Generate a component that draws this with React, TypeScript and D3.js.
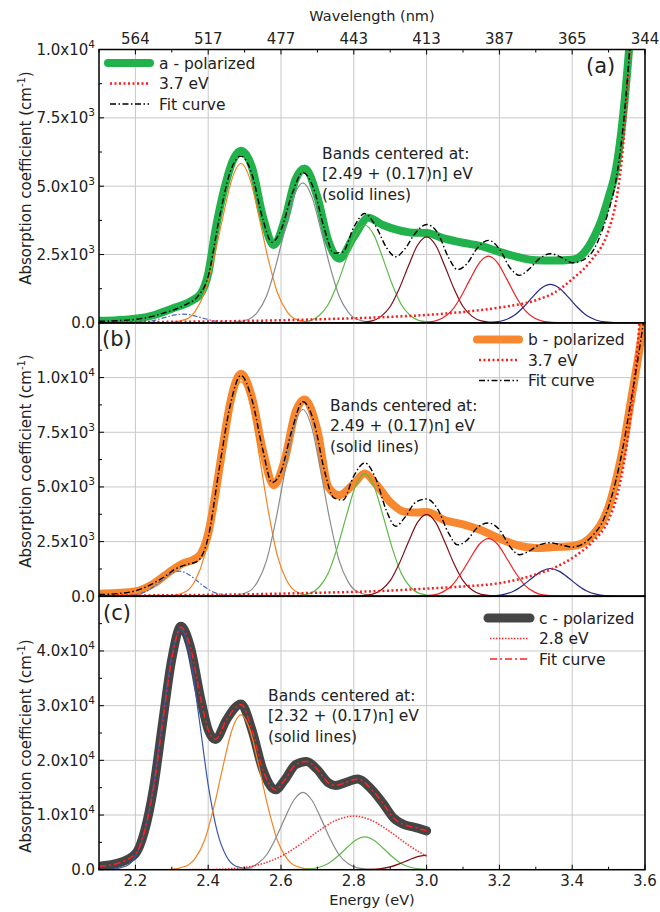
import React from "react";
import * as d3 from "d3";

// ---------------- shared axis data ----------------
const energyTicks = [2.2, 2.4, 2.6, 2.8, 3.0, 3.2, 3.4, 3.6];
const energyTickLabels = ["2.2", "2.4", "2.6", "2.8", "3.0", "3.2", "3.4", "3.6"];
const energyMinorTicks = [2.1, 2.3, 2.5, 2.7, 2.9, 3.1, 3.3, 3.5];
const wavelengthLabels = ["564", "517", "477", "443", "413", "387", "365", "344"];

// offsets (eV) around each band centre at which band heights were read
const bandOffsets = [-0.25, -0.2, -0.15, -0.125, -0.1, -0.075, -0.05, -0.025, 0, 0.025, 0.05, 0.075, 0.1, 0.125, 0.15, 0.2, 0.25];

// ---------------- panel (a) ----------------
const aTickValues = [0, 2500, 5000, 7500, 10000];
const aTickMantissa = ["0.0", "2.5x10", "5.0x10", "7.5x10", "1.0x10"];
const aTickExp = ["", "3", "3", "3", "4"];
const aMinorTicks = [1250, 3750, 6250, 8750];
const aBandCenters = [2.33, 2.49, 2.66, 2.83, 3.0, 3.17, 3.34];
const aBand233 = [0, 0, 4, 14, 43, 104, 194, 282, 320, 282, 194, 104, 43, 14, 4, 0, 0];
const aBand249 = [0, 8, 140, 443, 1110, 2330, 3850, 5250, 5830, 5250, 3850, 2330, 1110, 443, 140, 8, 0];
const aBand266 = [0, 7, 123, 389, 973, 2050, 3380, 4610, 5120, 4610, 3380, 2050, 973, 389, 123, 7, 0];
const aBand283 = [0, 5, 86, 272, 680, 1430, 2360, 3220, 3580, 3220, 2360, 1430, 680, 272, 86, 5, 0];
const aBand300 = [0, 4, 76, 239, 600, 1260, 2080, 2840, 3150, 2840, 2080, 1260, 600, 239, 76, 4, 0];
const aBand317 = [0, 3, 59, 185, 464, 976, 1610, 2200, 2440, 2200, 1610, 976, 464, 185, 59, 3, 0];
const aBand334 = [0, 2, 34, 107, 268, 564, 931, 1270, 1410, 1270, 931, 564, 268, 107, 34, 2, 0];
const aBgEnergy = [2.1, 2.3, 2.5, 2.7, 2.9, 3.0, 3.1, 3.2, 3.3, 3.35, 3.4, 3.45, 3.5, 3.52, 3.54, 3.56, 3.58, 3.6];
const aBgValue = [20, 40, 70, 130, 220, 290, 400, 560, 830, 1100, 1600, 2250, 3400, 4400, 6500, 10500, 16000, 24000];
const aMeasEnergy = [2.1, 2.15, 2.2, 2.25, 2.3, 2.35, 2.38, 2.4, 2.42, 2.45, 2.47, 2.49, 2.52, 2.55, 2.58, 2.61, 2.64, 2.665, 2.7, 2.73, 2.76, 2.8, 2.84, 2.88, 2.92, 2.96, 3.0, 3.05, 3.1, 3.15, 3.2, 3.25, 3.3, 3.35, 3.4, 3.43, 3.46, 3.48, 3.5, 3.52, 3.54, 3.555, 3.57];
const aMeasValue = [80, 100, 150, 280, 520, 780, 1080, 1800, 3400, 5200, 6000, 6300, 5700, 3900, 2850, 3750, 5250, 5650, 4600, 3000, 2350, 3150, 3850, 3580, 3400, 3300, 3290, 3080, 2930, 2810, 2600, 2410, 2290, 2280, 2310, 2530, 3140, 3750, 4600, 5600, 7600, 9800, 12500];
const aFitEnergy = [2.1, 2.15, 2.2, 2.25, 2.28, 2.31, 2.34, 2.37, 2.4, 2.43, 2.46, 2.49, 2.52, 2.55, 2.575, 2.6, 2.63, 2.66, 2.69, 2.72, 2.745, 2.77, 2.8, 2.83, 2.86, 2.89, 2.915, 2.94, 2.97, 3.0, 3.03, 3.06, 3.085, 3.11, 3.14, 3.17, 3.2, 3.23, 3.255, 3.28, 3.31, 3.34, 3.37, 3.4, 3.43, 3.46, 3.48, 3.5, 3.52, 3.54, 3.555, 3.57];
const aFitValue = [60, 80, 130, 250, 370, 500, 680, 950, 1700, 3800, 5500, 6100, 5450, 3800, 2950, 3400, 4700, 5500, 4900, 3400, 2550, 2600, 3500, 4000, 3550, 2750, 2420, 2700, 3300, 3600, 3300, 2400, 1950, 2150, 2750, 3020, 2700, 2000, 1740, 1950, 2350, 2530, 2400, 2200, 2300, 2700, 3300, 4100, 5200, 7200, 9500, 12500];

// ---------------- panel (b) ----------------
const bTickValues = [0, 2500, 5000, 7500, 10000];
const bTickMantissa = ["0.0", "2.5x10", "5.0x10", "7.5x10", "1.0x10"];
const bTickExp = ["", "3", "3", "3", "4"];
const bMinorTicks = [1250, 3750, 6250, 8750, 11250];
const bBandCenters = [2.32, 2.49, 2.66, 2.83, 3.0, 3.17, 3.34];
const bBand232 = [0, 0, 13, 51, 155, 374, 698, 1010, 1150, 1010, 698, 374, 155, 51, 13, 0, 0];
const bBand249 = [0, 13, 235, 745, 1860, 3920, 6470, 8820, 9800, 8820, 6470, 3920, 1860, 745, 235, 13, 0];
const bBand266 = [0, 11, 205, 649, 1620, 3420, 5640, 7690, 8540, 7690, 5640, 3420, 1620, 649, 205, 11, 0];
const bBand283 = [0, 7, 135, 426, 1070, 2240, 3700, 5050, 5610, 5050, 3700, 2240, 1070, 426, 135, 7, 0];
const bBand300 = [0, 5, 90, 285, 713, 1500, 2480, 3380, 3750, 3380, 2480, 1500, 713, 285, 90, 5, 0];
const bBand317 = [0, 3, 63, 201, 502, 1060, 1740, 2380, 2640, 2380, 1740, 1060, 502, 201, 63, 3, 0];
const bBand334 = [0, 2, 30, 97, 241, 508, 838, 1140, 1270, 1140, 838, 508, 241, 97, 30, 2, 0];
const bBgEnergy = [2.1, 2.3, 2.5, 2.7, 2.9, 3.0, 3.1, 3.2, 3.3, 3.35, 3.4, 3.45, 3.5, 3.52, 3.54, 3.56, 3.58, 3.6];
const bBgValue = [30, 50, 90, 160, 260, 350, 450, 600, 1000, 1300, 1750, 2400, 3500, 4400, 5900, 8200, 11500, 16000];
const bMeasEnergy = [2.1, 2.15, 2.2, 2.25, 2.3, 2.33, 2.36, 2.38, 2.4, 2.42, 2.44, 2.46, 2.49, 2.52, 2.55, 2.58, 2.61, 2.64, 2.665, 2.7, 2.73, 2.76, 2.8, 2.83, 2.86, 2.9, 2.94, 2.97, 3.0, 3.05, 3.1, 3.15, 3.2, 3.25, 3.3, 3.35, 3.4, 3.43, 3.46, 3.48, 3.5, 3.52, 3.54, 3.56, 3.58, 3.6];
const bMeasValue = [120, 150, 220, 580, 1190, 1500, 1680, 1950, 2870, 4700, 6830, 8810, 10180, 9110, 6680, 5080, 6220, 8430, 9000, 7590, 5000, 4620, 5150, 5610, 5150, 4310, 3860, 3830, 3850, 3480, 3290, 3020, 2640, 2330, 2210, 2250, 2300, 2440, 2870, 3330, 4090, 5300, 6830, 8810, 10790, 12900];
const bFitEnergy = [2.1, 2.15, 2.2, 2.25, 2.28, 2.31, 2.34, 2.37, 2.4, 2.43, 2.46, 2.49, 2.52, 2.55, 2.575, 2.6, 2.63, 2.66, 2.69, 2.72, 2.745, 2.77, 2.8, 2.83, 2.86, 2.89, 2.915, 2.94, 2.97, 3.0, 3.03, 3.06, 3.085, 3.11, 3.14, 3.17, 3.2, 3.23, 3.255, 3.28, 3.31, 3.34, 3.37, 3.4, 3.43, 3.46, 3.48, 3.5, 3.52, 3.54, 3.56, 3.58, 3.6];
const bFitValue = [80, 120, 250, 600, 900, 1250, 1450, 1600, 2700, 5800, 8700, 10100, 9000, 6700, 5200, 5700, 7600, 8900, 8000, 5700, 4500, 4400, 5500, 6100, 5400, 3900, 3200, 3600, 4300, 4450, 4000, 2900, 2350, 2550, 3150, 3350, 3050, 2250, 1900, 2050, 2350, 2450, 2350, 2250, 2400, 2850, 3300, 4100, 5300, 6850, 8800, 10800, 13000];

// ---------------- panel (c) ----------------
const cTickValues = [0, 10000, 20000, 30000, 40000];
const cTickMantissa = ["0.0", "1.0x10", "2.0x10", "3.0x10", "4.0x10"];
const cTickExp = ["", "4", "4", "4", "4"];
const cMinorTicks = [5000, 15000, 25000, 35000, 45000];
const cBandCenters = [2.325, 2.49, 2.66, 2.83, 3.0];
const cBand232 = [0, 26, 686, 2450, 6910, 15500, 27700, 39200, 44000, 39200, 27700, 15500, 6910, 2450, 686, 26, 0];
const cBand249 = [0, 37, 680, 2150, 5380, 11300, 18700, 25500, 28300, 25500, 18700, 11300, 5380, 2150, 680, 37, 0];
const cBand266 = [0, 18, 340, 1080, 2690, 5660, 9340, 12700, 14150, 12700, 9340, 5660, 2690, 1080, 340, 18, 0];
const cBand283 = [0, 8, 144, 456, 1140, 2400, 3960, 5400, 6000, 5400, 3960, 2400, 1140, 456, 144, 8, 0];
const cBand300 = [0, 3, 64, 201, 504, 1060, 1750, 2390, 2650, 2390, 1750, 1060, 504, 201, 64, 3, 0];
const cBgEnergy = [2.1, 2.3, 2.4, 2.5, 2.55, 2.6, 2.65, 2.7, 2.75, 2.8, 2.85, 2.9, 2.95, 3.0];
const cBgValue = [0, 5, 38, 431, 1120, 2440, 4490, 6930, 8990, 9800, 8990, 6930, 4490, 2440];
const cMeasEnergy = [2.1, 2.15, 2.2, 2.225, 2.25, 2.275, 2.3, 2.325, 2.35, 2.38, 2.4, 2.42, 2.45, 2.49, 2.52, 2.55, 2.585, 2.61, 2.64, 2.67, 2.7, 2.73, 2.75, 2.78, 2.81, 2.85, 2.88, 2.91, 2.94, 2.97, 3.0];
const cMeasValue = [640, 1150, 2900, 7000, 15000, 27000, 38500, 44500, 41000, 31100, 25600, 23800, 27400, 30300, 25600, 18300, 14600, 16400, 19200, 19800, 18300, 15900, 15400, 16000, 16600, 14600, 12150, 9400, 8200, 7700, 7100];
const cFitEnergy = [2.1, 2.15, 2.2, 2.225, 2.25, 2.275, 2.3, 2.325, 2.35, 2.38, 2.4, 2.42, 2.45, 2.49, 2.52, 2.55, 2.585, 2.61, 2.64, 2.67, 2.7, 2.73, 2.75, 2.78, 2.81, 2.85, 2.88, 2.91, 2.94, 2.97, 3.0];
const cFitValue = [620, 1150, 2900, 7000, 15000, 27000, 38500, 44400, 41000, 31100, 25600, 23800, 27400, 30200, 25600, 18300, 14600, 16400, 19200, 19800, 18300, 15900, 15400, 16000, 16600, 14600, 12150, 9400, 8200, 7700, 7100];

// ---------------- layout / style ----------------
const W = 660;
const H = 912;
const LEFT = 99;
const RIGHT = 645;
const PANEL_H = 273.4;
const TOP0 = 49.5;
const FONT = "'DejaVu Sans', Verdana, sans-serif";

const FIT_DASH = "6 2.5 1.5 2.5";

type Band = { center: number; values: number[]; color: string; dash?: string };
type Panel = {
  key: string;
  label: string;
  labelX: number;
  labelY: number;
  yMax: number;
  dataMax: number;
  ticks: number[];
  mant: string[];
  exp: string[];
  minor: number[];
  bands: Band[];
  bg: { e: number[]; v: number[]; color: string; width: number; dash: string };
  meas: { e: number[]; v: number[]; color: string; width: number };
  fit: { e: number[]; v: number[]; color: string; width: number; dash: string };
  legend: { x: number; y: number; labels: string[] };
  note: { x: number; y: number; lines: string[] };
  titleY: number;
};

const panels: Panel[] = [
  {
    key: "a",
    label: "(a)",
    labelX: 586,
    labelY: 73,
    yMax: 10000,
    dataMax: 3.6,
    ticks: aTickValues,
    mant: aTickMantissa,
    exp: aTickExp,
    minor: aMinorTicks,
    bands: [
      { center: aBandCenters[0], values: aBand233, color: "#4568c2", dash: "5 2 1.5 2" },
      { center: aBandCenters[1], values: aBand249, color: "#f58220" },
      { center: aBandCenters[2], values: aBand266, color: "#8a8a8a" },
      { center: aBandCenters[3], values: aBand283, color: "#5cb946" },
      { center: aBandCenters[4], values: aBand300, color: "#7f0f17" },
      { center: aBandCenters[5], values: aBand317, color: "#ee2124" },
      { center: aBandCenters[6], values: aBand334, color: "#232b82" },
    ],
    bg: { e: aBgEnergy, v: aBgValue, color: "#ff1a1a", width: 2.5, dash: "2 2.5" },
    meas: { e: aMeasEnergy, v: aMeasValue, color: "#22b24c", width: 8 },
    fit: { e: aFitEnergy, v: aFitValue, color: "#000000", width: 1.4, dash: FIT_DASH },
    legend: { x: 108, y: 63, labels: ["a - polarized", "3.7 eV", "Fit curve"] },
    note: { x: 322, y: 153, lines: ["Bands centered at:", "[2.49 + (0.17)n] eV", "(solid lines)"] },
    titleY: 178,
  },
  {
    key: "b",
    label: "(b)",
    labelX: 102,
    labelY: 346,
    yMax: 12500,
    dataMax: 3.6,
    ticks: bTickValues,
    mant: bTickMantissa,
    exp: bTickExp,
    minor: bMinorTicks,
    bands: [
      { center: bBandCenters[0], values: bBand232, color: "#4568c2", dash: "5 2 1.5 2" },
      { center: bBandCenters[1], values: bBand249, color: "#f58220" },
      { center: bBandCenters[2], values: bBand266, color: "#8a8a8a" },
      { center: bBandCenters[3], values: bBand283, color: "#5cb946" },
      { center: bBandCenters[4], values: bBand300, color: "#7f0f17" },
      { center: bBandCenters[5], values: bBand317, color: "#ee2124" },
      { center: bBandCenters[6], values: bBand334, color: "#232b82" },
    ],
    bg: { e: bBgEnergy, v: bBgValue, color: "#ff1a1a", width: 2.5, dash: "2 2.5" },
    meas: { e: bMeasEnergy, v: bMeasValue, color: "#f7882f", width: 8 },
    fit: { e: bFitEnergy, v: bFitValue, color: "#000000", width: 1.4, dash: FIT_DASH },
    legend: { x: 477, y: 339.5, labels: ["b - polarized", "3.7 eV", "Fit curve"] },
    note: { x: 330, y: 405, lines: ["Bands centered at:", "2.49 + (0.17)n] eV", "(solid lines)"] },
    titleY: 461,
  },
  {
    key: "c",
    label: "(c)",
    labelX: 103,
    labelY: 620,
    yMax: 50000,
    dataMax: 3.0,
    ticks: cTickValues,
    mant: cTickMantissa,
    exp: cTickExp,
    minor: cMinorTicks,
    bands: [
      { center: cBandCenters[0], values: cBand232, color: "#3a56a8" },
      { center: cBandCenters[1], values: cBand249, color: "#f58220" },
      { center: cBandCenters[2], values: cBand266, color: "#8a8a8a" },
      { center: cBandCenters[3], values: cBand283, color: "#5cb946" },
      { center: cBandCenters[4], values: cBand300, color: "#7f0f17" },
    ],
    bg: { e: cBgEnergy, v: cBgValue, color: "#ff2a2a", width: 1.5, dash: "1.5 1.5" },
    meas: { e: cMeasEnergy, v: cMeasValue, color: "#454545", width: 9 },
    fit: { e: cFitEnergy, v: cFitValue, color: "#ff2020", width: 1.5, dash: "7 3 2 3" },
    legend: { x: 488, y: 618, labels: ["c - polarized", "2.8 eV", "Fit curve"] },
    note: { x: 268, y: 695, lines: ["Bands centered at:", "[2.32 + (0.17)n] eV", "(solid lines)"] },
    titleY: 746,
  },
];

const x = d3.scaleLinear().domain([2.1, 3.6]).range([LEFT, RIGHT]);

function PanelView({ p, index }: { p: Panel; index: number }) {
  const top = TOP0 + index * PANEL_H;
  const bottom = top + PANEL_H;
  const y = d3.scaleLinear().domain([0, p.yMax]).range([bottom, top]);
  const line = d3
    .line<[number, number]>()
    .x((d) => x(d[0]))
    .y((d) => y(d[1]))
    .curve(d3.curveMonotoneX);
  const pairs = (e: number[], v: number[]) => e.map((ev, i) => [ev, v[i]] as [number, number]);
  const bandPts = (b: Band) => {
    const pts = bandOffsets
      .map((o, i) => [Math.round((b.center + o) * 1000) / 1000, b.values[i]] as [number, number])
      .filter((d) => d[0] >= 2.1 && d[0] <= p.dataMax);
    if (pts[0][0] > 2.1) pts.unshift([2.1, 0]);
    if (pts[pts.length - 1][0] < p.dataMax) pts.push([p.dataMax, 0]);
    return pts;
  };
  const clipId = `clip-${p.key}`;
  const rowH = 20.5;
  return (
    <g>
      <defs>
        <clipPath id={clipId}>
          <rect x={LEFT} y={top} width={RIGHT - LEFT} height={PANEL_H} />
        </clipPath>
      </defs>
      {/* grid */}
      {energyTicks.map((e) => (
        <line key={"gx" + e} x1={x(e)} x2={x(e)} y1={top} y2={bottom} stroke="#c8c8c8" strokeWidth={1} />
      ))}
      {p.ticks.map((t) => (
        <line key={"gy" + t} x1={LEFT} x2={RIGHT} y1={y(t)} y2={y(t)} stroke="#c8c8c8" strokeWidth={1} />
      ))}
      <g clipPath={`url(#${clipId})`}>
        <path d={line(pairs(p.meas.e, p.meas.v)) || ""} fill="none" stroke={p.meas.color} strokeWidth={p.meas.width} strokeLinecap="round" strokeLinejoin="round" />
        {p.bands.map((b, i) => (
          <path key={"band" + i} d={line(bandPts(b)) || ""} fill="none" stroke={b.color} strokeWidth={1.2} strokeDasharray={b.dash} />
        ))}
        <path d={line(pairs(p.bg.e, p.bg.v)) || ""} fill="none" stroke={p.bg.color} strokeWidth={p.bg.width} strokeDasharray={p.bg.dash} />
        <path d={line(pairs(p.fit.e, p.fit.v)) || ""} fill="none" stroke={p.fit.color} strokeWidth={p.fit.width} strokeDasharray={p.fit.dash} />
      </g>
      {/* y ticks */}
      {p.ticks.map((t) => (
        <line key={"ty" + t} x1={LEFT} x2={LEFT + 5} y1={y(t)} y2={y(t)} stroke="#000" strokeWidth={1} />
      ))}
      {p.minor.map((t) => (
        <line key={"my" + t} x1={LEFT} x2={LEFT + 3} y1={y(t)} y2={y(t)} stroke="#000" strokeWidth={1} />
      ))}
      {p.ticks.map((t, i) => (
        <text key={"ly" + t} x={95} y={y(t)} dy="0.36em" textAnchor="end" fontSize={15} fill="#222">
          {p.mant[i]}
          {p.exp[i] ? (
            <tspan dy={-7} fontSize={10.5}>
              {p.exp[i]}
            </tspan>
          ) : null}
        </text>
      ))}
      {/* y title */}
      <text transform={`translate(26, ${p.titleY}) rotate(-90)`} textAnchor="middle" dy="0.36em" fontSize={15} fill="#222">
        Absorption coefficient (cm
        <tspan dy={-6} fontSize={10}>
          -1
        </tspan>
        <tspan dy={6}>)</tspan>
      </text>
      {/* border */}
      <rect x={LEFT} y={top} width={RIGHT - LEFT} height={PANEL_H} fill="none" stroke="#000" strokeWidth={1.5} />
      {/* panel label */}
      <text x={p.labelX} y={p.labelY} fontSize={21} fill="#222">
        {p.label}
      </text>
      {/* note */}
      {p.note.lines.map((s, i) => (
        <text key={"n" + i} x={p.note.x} y={p.note.y + i * 20.7} dy="0.36em" fontSize={15.5} fill="#222">
          {s}
        </text>
      ))}
      {/* legend */}
      <g>
        <line x1={p.legend.x} x2={p.legend.x + 42} y1={p.legend.y} y2={p.legend.y} stroke={p.meas.color} strokeWidth={p.meas.width} strokeLinecap="round" />
        <line x1={p.legend.x + 2} x2={p.legend.x + 41} y1={p.legend.y + rowH} y2={p.legend.y + rowH} stroke={p.bg.color} strokeWidth={p.bg.width} strokeDasharray={p.bg.dash} />
        <line x1={p.legend.x + 2} x2={p.legend.x + 41} y1={p.legend.y + 2 * rowH} y2={p.legend.y + 2 * rowH} stroke={p.fit.color} strokeWidth={p.fit.width} strokeDasharray={p.fit.dash} />
        {p.legend.labels.map((s, i) => (
          <text key={"lg" + i} x={p.legend.x + 51} y={p.legend.y + i * rowH} dy="0.36em" fontSize={15.5} fill="#222">
            {s}
          </text>
        ))}
      </g>
    </g>
  );
}

export default function App() {
  const top = TOP0;
  const bottom = TOP0 + 3 * PANEL_H;
  return (
    <svg width={W} height={H} style={{ position: "absolute", left: 0, top: 0, background: "#fff" }} fontFamily={FONT}>
      <rect x={0} y={0} width={W} height={H} fill="#fff" />
      {panels.map((p, i) => (
        <PanelView key={p.key} p={p} index={i} />
      ))}
      {/* top axis */}
      {energyTicks.map((e) => (
        <line key={"tt" + e} x1={x(e)} x2={x(e)} y1={top} y2={top + 5} stroke="#000" strokeWidth={1} />
      ))}
      {energyMinorTicks.map((e) => (
        <line key={"tm" + e} x1={x(e)} x2={x(e)} y1={top} y2={top + 3} stroke="#000" strokeWidth={1} />
      ))}
      {energyTicks.map((e, i) => (
        <text key={"tl" + e} x={x(e)} y={44} textAnchor="middle" fontSize={15} fill="#222">
          {wavelengthLabels[i]}
        </text>
      ))}
      <text x={(LEFT + RIGHT) / 2} y={21} textAnchor="middle" fontSize={14.5} fill="#222">
        Wavelength (nm)
      </text>
      {/* bottom axis */}
      {energyTicks.map((e) => (
        <line key={"bt" + e} x1={x(e)} x2={x(e)} y1={bottom} y2={bottom - 5} stroke="#000" strokeWidth={1} />
      ))}
      {energyMinorTicks.map((e) => (
        <line key={"bm" + e} x1={x(e)} x2={x(e)} y1={bottom} y2={bottom - 3} stroke="#000" strokeWidth={1} />
      ))}
      {energyTicks.map((e, i) => (
        <text key={"bl" + e} x={x(e)} y={886} textAnchor="middle" fontSize={15} fill="#222">
          {energyTickLabels[i]}
        </text>
      ))}
      <text x={(LEFT + RIGHT) / 2} y={905} textAnchor="middle" fontSize={14.5} fill="#222">
        Energy (eV)
      </text>
    </svg>
  );
}
